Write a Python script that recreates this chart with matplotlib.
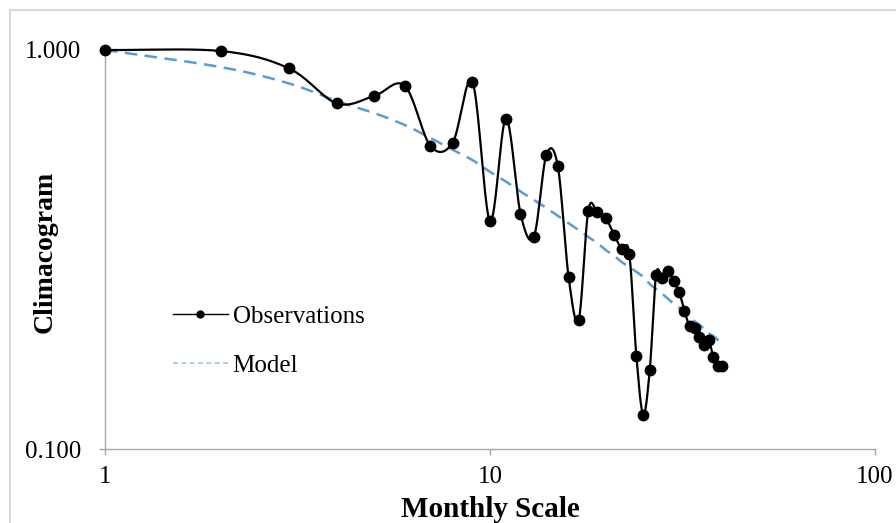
import numpy as np
import matplotlib
matplotlib.use("Agg")
import matplotlib.pyplot as plt
from matplotlib.ticker import FixedLocator, FixedFormatter, NullLocator
from matplotlib.patches import Rectangle

# ---- data ----
scale = list(range(1, 41))
observations = [1.000, 0.994, 0.900, 0.735, 0.767, 0.814, 0.575, 0.586, 0.833, 0.373,
                0.673, 0.389, 0.340, 0.544, 0.512, 0.270, 0.211, 0.396, 0.392, 0.379,
                0.344, 0.317, 0.309, 0.171, 0.122, 0.158, 0.273, 0.268, 0.280, 0.263,
                0.247, 0.222, 0.203, 0.201, 0.191, 0.182, 0.188, 0.170, 0.161, 0.161]
model = [1.000, 0.906, 0.825, 0.745, 0.695, 0.649, 0.602, 0.562, 0.530, 0.495,
         0.468, 0.442, 0.421, 0.402, 0.384, 0.368, 0.354, 0.340, 0.328, 0.315,
         0.305, 0.294, 0.286, 0.278, 0.270, 0.259, 0.252, 0.245, 0.238, 0.231,
         0.226, 0.219, 0.214, 0.209, 0.205, 0.200, 0.195, 0.192, 0.188, 0.184]
x_ticks = [1, 10, 100]
x_ticklabels = ["1", "10", "100"]
y_ticks = [0.1, 1.0]
y_ticklabels = ["0.100", "1.000"]


def smooth(xs, ys, n=20):
    """Catmull-Rom smoothing in log-log space (like a spreadsheet smoothed line)."""
    P = np.column_stack([np.log10(xs), np.log10(ys)])
    m = np.zeros_like(P)
    m[1:-1] = (P[2:] - P[:-2]) / 2.0
    m[0] = P[1] - P[0]
    m[-1] = P[-1] - P[-2]
    out = []
    t = np.linspace(0, 1, n, endpoint=False)[:, None]
    h00 = 2 * t**3 - 3 * t**2 + 1
    h10 = t**3 - 2 * t**2 + t
    h01 = -2 * t**3 + 3 * t**2
    h11 = t**3 - t**2
    for i in range(len(P) - 1):
        seg = h00 * P[i] + h10 * m[i] + h01 * P[i + 1] + h11 * m[i + 1]
        out.append(seg)
    out.append(P[-1:])
    out = np.vstack(out)
    return 10 ** out[:, 0], 10 ** out[:, 1]


W, H = 896, 523
fig = plt.figure(figsize=(W / 100, H / 100), dpi=100)
plt.rcParams['font.family'] = ['Liberation Serif', 'DejaVu Serif']

# outer frame
fig.patches.append(Rectangle((10 / W, -0.1), 1.2, 1 - 10 / H + 0.1, transform=fig.transFigure,
                             fill=False, edgecolor="#D9D9D9", linewidth=1.5))

ax = fig.add_axes([105 / W, 1 - 449 / H, (875 - 105) / W, (449 - 50) / H])
ax.set_xscale("log")
ax.set_yscale("log")
ax.set_xlim(1, 100)
ax.set_ylim(0.1, 1.0)

sx, sy = smooth(scale, observations)
ax.plot(sx, sy, color="black", lw=1.6, clip_on=False, zorder=3)
ax.plot(scale, observations, linestyle="none", marker="o", ms=7.5, color="black",
        clip_on=False, zorder=4)
msx, msy = smooth(scale, model)
ax.plot(msx, msy, color="#5B9BD5", lw=1.8, dashes=(5, 3), clip_on=False, zorder=2)

# legend proxies
h1, = ax.plot([], [], color="black", lw=1.0, marker="o", ms=5, label="Observations")
h2, = ax.plot([], [], color="#9DC3E6", lw=1.2, dashes=(3, 2), label="Model")
leg = ax.legend(handles=[h1, h2], loc="upper left", bbox_to_anchor=(150 / W, 1 - 283 / H),
                bbox_transform=fig.transFigure, frameon=False, fontsize=18,
                handlelength=2.2, handletextpad=0.2, labelspacing=1.05)

for s in ["top", "right"]:
    ax.spines[s].set_visible(False)
for s in ["left", "bottom"]:
    ax.spines[s].set_color("#A6A6A6")
    ax.spines[s].set_linewidth(1.0)

ax.xaxis.set_major_locator(FixedLocator(x_ticks))
ax.xaxis.set_major_formatter(FixedFormatter(x_ticklabels))
ax.yaxis.set_major_locator(FixedLocator(y_ticks))
ax.yaxis.set_major_formatter(FixedFormatter(y_ticklabels))
ax.xaxis.set_minor_locator(NullLocator())
ax.yaxis.set_minor_locator(NullLocator())
ax.tick_params(axis="both", which="major", length=4, width=1, color="#A6A6A6",
               labelsize=18, direction="out")
ax.tick_params(axis="x", pad=8)
ax.tick_params(axis="y", pad=13)

ax.set_xlabel("Monthly Scale", fontsize=21, fontweight="bold")
ax.set_ylabel("Climacogram", fontsize=20, fontweight="bold")
ax.xaxis.set_label_coords(0.5, -(496 - 449) / (449 - 50))
ax.yaxis.set_label_coords(-(105 - 58) / (875 - 105), (449 - 252) / (449 - 50))

fig.savefig("out.png", dpi=100)
